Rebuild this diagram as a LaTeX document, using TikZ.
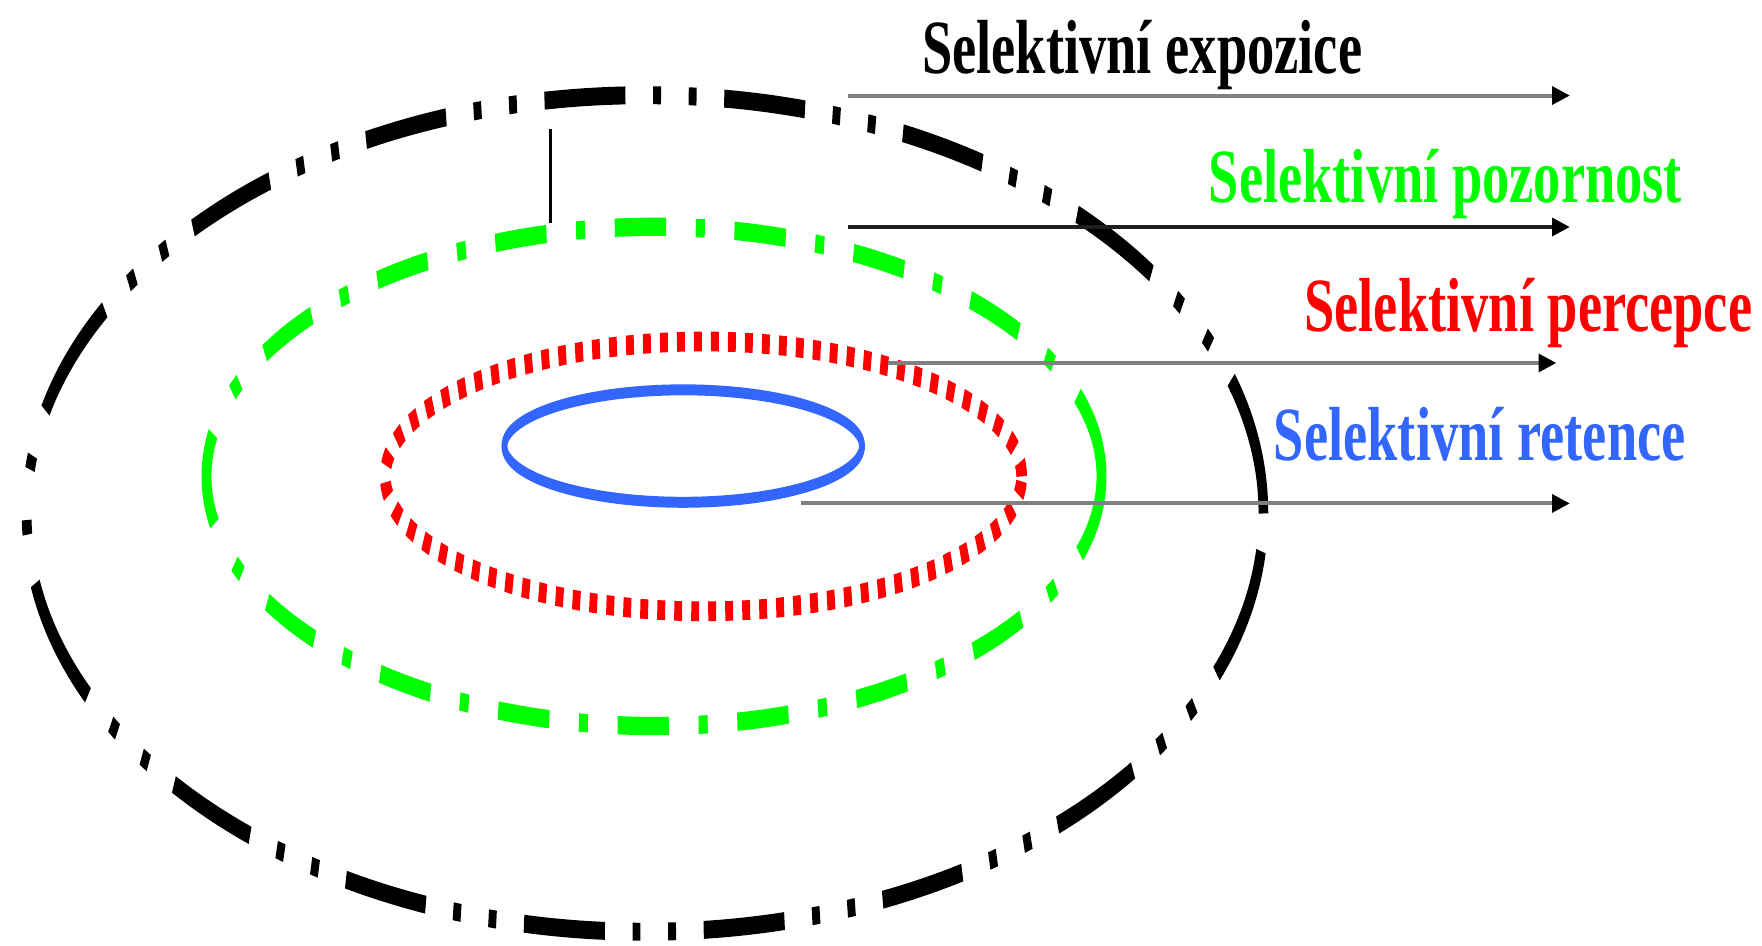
\documentclass[tikz,border=0pt]{standalone}
\usepackage{fontspec}
\setmainfont{Liberation Serif}
\usepackage{graphicx}
\usetikzlibrary{arrows.meta}
\definecolor{selgreen}{RGB}{0,255,0}
\definecolor{selred}{RGB}{255,0,0}
\definecolor{selblue}{RGB}{51,102,255}
\definecolor{arrgray}{RGB}{128,128,128}
\definecolor{arrdark}{RGB}{30,30,30}
\begin{document}
\begin{tikzpicture}[x=0.01cm,y=-0.01cm,
  outerring/.style={line width=2.45pt, draw=black, dash pattern=on 20.5pt off 7pt on 2pt off 7pt on 2pt off 7pt},
  greenring/.style={line width=2.5pt, draw=selgreen, dash pattern=on 13pt off 7.5pt on 2.3pt off 7.5pt},
  redring/.style={line width=2.7pt, draw=selred, dash pattern=on 2pt off 2.3pt},
  bluering/.style={line width=1.5pt, draw=selblue},
  connector/.style={line width=1pt, draw=arrgray, -{Triangle[length=4.5pt,width=4.5pt,color=black]}},
  lbl/.style={anchor=base west, inner sep=0pt, font=\fontsize{19.4pt}{22pt}\selectfont\bfseries}]
\useasboundingbox (0,0) rectangle (1568,841);
\begin{scope}[y=-0.0054054cm, transform canvas={yscale=1.85}]
  \draw[outerring] (574,457) ellipse [x radius=5.5cm, y radius=2.0108cm];
  \draw[greenring] (582,424) ellipse [x radius=3.98cm, y radius=1.2cm];
  \draw[redring] (626,424) ellipse [x radius=2.83cm, y radius=0.6486cm];
  \draw[bluering] (608,397) ellipse [x radius=1.59cm, y radius=0.2703cm];
\end{scope}
\coordinate (v1) at (490,115);
\coordinate (v2) at (490,198);
\draw[line width=0.6pt] (v1) -- (v2);
\coordinate (a1s) at (755,85);  \coordinate (a1e) at (1397,85);
\coordinate (a2s) at (755,202); \coordinate (a2e) at (1397,202);
\coordinate (a3s) at (790,323); \coordinate (a3e) at (1385,323);
\coordinate (a4s) at (713,448); \coordinate (a4e) at (1397,448);
\draw[connector] (a1s) -- (a1e);
\draw[connector, draw=arrdark] (a2s) -- (a2e);
\draw[connector] (a3s) -- (a3e);
\draw[connector] (a4s) -- (a4e);
\node[lbl, text=black] (t1) at (820,65) {\scalebox{0.71}[1]{Selektivní expozice}};
\node[lbl, text=selgreen] (t2) at (1075,180) {\scalebox{0.71}[1]{Selektivní pozornost}};
\node[lbl, text=selred] (t3) at (1160,295) {\scalebox{0.71}[1]{Selektivní percepce}};
\node[lbl, text=selblue] (t4) at (1133,410) {\scalebox{0.71}[1]{Selektivní retence}};
\end{tikzpicture}
\end{document}
